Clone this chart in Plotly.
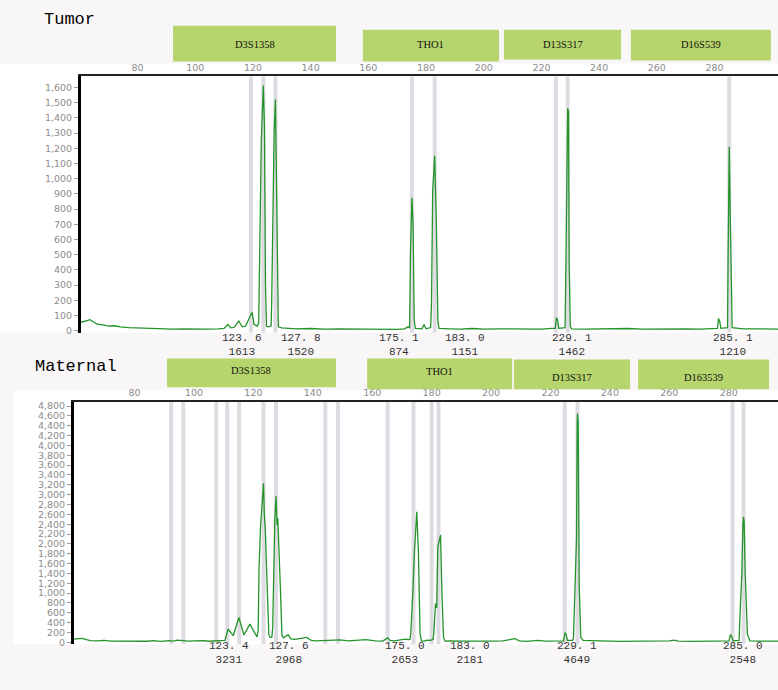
import plotly.graph_objects as go

W, H = 778, 690

# ---------------- data ----------------
tumor_size = [60.4, 61.5, 62.5, 63.5, 64.5, 66, 68, 70, 72, 74, 77, 80, 84, 88, 92, 96, 100, 104, 108, 110,
              111.3, 112.3, 113.5, 115.1, 116.3, 117.5, 119.0, 119.7, 120.4, 121.5, 122.0,
              122.4, 122.9, 123.6, 124.0, 124.35, 124.7, 125.3,
              126.3, 126.5, 126.9, 127.35, 127.8, 128.1, 128.5, 128.8,
              130, 135, 140, 145, 150, 155, 160, 165, 170, 172.5, 173.8,
              174.3, 174.6, 175.1, 175.5, 175.9, 176.3,
              178.6, 179.3, 180.0,
              181.6, 181.9, 182.3, 183.0, 183.6, 184.1, 184.5,
              188, 192, 196, 200, 205, 210, 215, 220, 223.5,
              224.8, 225.2, 225.6, 226.0,
              228.2, 228.5, 228.9, 229.1, 229.4, 229.6, 230.0, 230.4,
              235, 240, 245, 250, 255, 260, 265, 270, 275, 279.5,
              281.0, 281.4, 281.8, 282.2,
              284.5, 284.7, 284.95, 285.1, 285.4, 285.8, 286.1,
              290, 295, 300, 302]
tumor_rfu = [55, 58, 65, 72, 60, 42, 38, 30, 32, 24, 20, 18, 14, 12, 10, 12, 9, 10, 12, 14,
             40, 18, 22, 62, 25, 30, 95, 120, 40, 30, 50,
             780, 1250, 1613, 1334, 300, 28, 25,
             30, 180, 750, 1313, 1520, 1000, 180, 25,
             18, 12, 14, 10, 12, 10, 12, 10, 8, 12, 25,
             20, 510, 874, 714, 70, 15,
             12, 40, 12,
             20, 183, 913, 1151, 680, 60, 15,
             12, 10, 14, 10, 12, 10, 12, 10, 15,
             15, 85, 70, 15,
             20, 464, 1450, 1462, 1440, 470, 30, 12,
             10, 12, 10, 14, 10, 12, 10, 12, 10, 14,
             15, 80, 60, 15,
             20, 475, 1097, 1210, 823, 117, 20,
             12, 10, 12, 10]

maternal_size = [59.6, 61.0, 62.4, 63.8, 65.2, 67.5, 69.7, 72, 75, 78, 81, 84, 86.5, 88.5, 91.6, 93, 94.4, 96, 98,
                 100, 103.3, 105, 106.7, 108.3, 110.4,
                 111.5, 113.2, 115.1, 116.8, 118.8, 120.7, 121.2,
                 121.6, 121.9, 122.4, 122.9, 123.4, 123.65, 124.0, 124.4, 124.8, 125.2, 125.6,
                 126.2, 126.5, 126.8, 127.2, 127.6, 127.95, 128.2, 128.55, 129.1, 129.6, 130.1,
                 131.7, 132.6, 134, 137.9, 139.5, 141, 145.2, 149, 152, 157.9, 161, 163.5, 165.2, 166,
                 167.3, 169.5, 171.2, 172.3,
                 172.7, 173.0, 173.4, 173.65, 174.2, 175.0, 175.55, 176.1, 176.6,
                 177.5, 178.5, 179.5, 180.5,
                 180.75, 181.3, 181.7, 182.1, 183.0, 183.45, 184.0, 184.5,
                 186, 190, 195, 200, 204, 206.5, 208, 209.5, 212, 215, 216, 218, 222,
                 224.4, 224.9, 225.3, 225.7,
                 227.5, 227.75, 228.3, 228.77, 229.0, 229.1, 229.33, 229.67, 230.2, 231.0,
                 233, 238, 244, 250, 256, 260, 261.5, 263, 268, 274, 279,
                 280.1, 280.6, 281.0, 281.5,
                 283.5, 283.9, 284.43, 284.8, 285.0, 285.2, 285.57, 286.3, 287.1,
                 290, 293, 296.6]
maternal_rfu = [67, 72, 81, 55, 34, 30, 38, 25, 22, 18, 20, 22, 35, 20, 35, 25, 45, 30, 25,
                28, 35, 22, 25, 30, 40,
                270, 135, 504, 148, 370, 155, 110,
                240, 1510, 2350, 2900, 3231, 2620, 2290, 1550, 640, 150, 100,
                100, 300, 1780, 2490, 2968, 2386, 2520, 2050, 1075, 140, 90,
                155, 70, 60, 100, 40, 30, 40, 50, 30, 55, 30, 25, 90, 40,
                30, 45, 65, 55,
                60, 200, 640, 975, 1850, 2653, 1815, 170, 30,
                25, 45, 40, 60,
                200, 790, 700, 1950, 2181, 1010, 100, 25,
                30, 25, 20, 25, 30, 50, 75, 30, 20, 35, 40, 25, 25,
                30, 200, 160, 40,
                40, 100, 1143, 2118, 4500, 4649, 4457, 1176, 100, 40,
                35, 25, 20, 25, 20, 30, 45, 25, 20, 25, 30,
                30, 160, 120, 30,
                40, 706, 1392, 2400, 2548, 2450, 1378, 168, 30,
                25, 30, 25]

tumor_bins = [119.3, 123.6, 127.8, 175.1, 183.0, 225.0, 229.1, 285.1]
maternal_bins = [92.3, 96.4, 107.5, 111.2, 115.2, 123.4, 127.6, 144.2, 148.5, 165.2,
                 173.9, 180.0, 182.3, 224.8, 229.1, 281.3, 285.0]

tumor_alleles = [123.6, 127.8, 175.1, 183.0, 229.1, 285.1]
tumor_heights = [1613, 1520, 874, 1151, 1462, 1210]
maternal_alleles = [123.4, 127.6, 175.0, 183.0, 229.1, 285.0]
maternal_heights = [3231, 2968, 2653, 2181, 4649, 2548]

size_ticks = [80, 100, 120, 140, 160, 180, 200, 220, 240, 260, 280, 300]

tumor_loci = ["D3S1358", "THO1", "D13S317", "D16S539"]
tumor_locus_start = [92.3, 158.1, 207.0, 251.0]
tumor_locus_end = [148.8, 205.3, 247.6, 299.5]
maternal_loci = ["D3S1358", "THO1", "D13S317", "D163539"]
maternal_locus_start = [90.9, 158.3, 207.7, 249.5]
maternal_locus_end = [147.8, 207.1, 246.8, 293.6]

# ---------------- style ----------------
PINK = "#f9f6f7"
GREEN_BOX = "#b6d56c"
LINE = "#23932a"
BIN = "#dedce2"
TICKGRAY = "#8c8c8c"


def fx(px):
    return px / W


def fy(py):
    return 1 - py / H


fig = go.Figure()
fig.add_trace(go.Scatter(x=tumor_size, y=tumor_rfu, mode="lines", xaxis="x", yaxis="y",
                         line=dict(color=LINE, width=1.3), hoverinfo="skip", showlegend=False))
fig.add_trace(go.Scatter(x=maternal_size, y=maternal_rfu, mode="lines", xaxis="x2", yaxis="y2",
                         line=dict(color=LINE, width=1.3), hoverinfo="skip", showlegend=False))

shapes = []
# white panel backgrounds
shapes.append(dict(type="rect", xref="paper", yref="paper", x0=fx(0), x1=fx(778), y0=fy(332), y1=fy(62),
                   fillcolor="white", line=dict(width=0), layer="below"))
shapes.append(dict(type="rect", xref="paper", yref="paper", x0=fx(14), x1=fx(778), y0=fy(647), y1=fy(391),
                   fillcolor="white", line=dict(width=0), layer="below"))
# bins
for b in tumor_bins:
    shapes.append(dict(type="line", xref="x", yref="y domain", x0=b, x1=b, y0=0, y1=1,
                       line=dict(color=BIN, width=4), layer="below"))
for b in maternal_bins:
    shapes.append(dict(type="line", xref="x2", yref="y2 domain", x0=b, x1=b, y0=0, y1=1,
                       line=dict(color=BIN, width=4), layer="below"))

annotations = []
# locus boxes
top_box_y = [(24, 60), (28, 60), (28, 58), (28, 59)]
top_txt_y = [43, 43, 43, 43]
bot_box_y = [(359, 388), (359, 390), (360, 390), (360, 390)]
bot_txt_y = [371, 372, 378, 378]
box_font = dict(family="Liberation Serif", size=10.5, color="#111")
for name, s0, s1, (ya, yb), ty in zip(tumor_loci, tumor_locus_start, tumor_locus_end, top_box_y, top_txt_y):
    shapes.append(dict(type="rect", xref="x", yref="paper", x0=s0, x1=s1, y0=fy(yb), y1=fy(ya),
                       fillcolor=GREEN_BOX, line=dict(width=0)))
    annotations.append(dict(x=(s0 + s1) / 2, xref="x", y=fy(ty), yref="paper", text=name, showarrow=False,
                            font=box_font, xanchor="center", yanchor="middle"))
for name, s0, s1, (ya, yb), ty in zip(maternal_loci, maternal_locus_start, maternal_locus_end, bot_box_y, bot_txt_y):
    shapes.append(dict(type="rect", xref="x2", yref="paper", x0=s0, x1=s1, y0=fy(yb), y1=fy(ya),
                       fillcolor=GREEN_BOX, line=dict(width=0)))
    annotations.append(dict(x=(s0 + s1) / 2, xref="x2", y=fy(ty), yref="paper", text=name, showarrow=False,
                            font=box_font, xanchor="center", yanchor="middle"))

# panel titles
title_font = dict(family="Liberation Mono", size=17, color="black")
annotations.append(dict(x=fx(42), y=fy(18), xref="paper", yref="paper", text="Tumor", showarrow=False,
                        xanchor="left", yanchor="middle", font=title_font))
annotations.append(dict(x=fx(33), y=fy(367), xref="paper", yref="paper", text="Maternal", showarrow=False,
                        xanchor="left", yanchor="middle", font=title_font))

# allele labels (size / height, two lines)
lab_font = dict(family="Liberation Mono", size=11, color="#333")
top_shift = [-21, 26, -13, 30, 4, 4]
bot_shift = [-35, 13, -12, 29, 0, -1]


def fmt(v):
    return f"{v:.1f}".replace(".", ". ")


for s, h, dx in zip(tumor_alleles, tumor_heights, top_shift):
    annotations.append(dict(x=s, xref="x", y=fy(346), yref="paper", text=fmt(s) + "<br>" + str(h),
                            showarrow=False, xshift=dx, xanchor="center", yanchor="middle",
                            font=lab_font, borderpad=0))
for s, h, dx in zip(maternal_alleles, maternal_heights, bot_shift):
    annotations.append(dict(x=s, xref="x2", y=fy(656), yref="paper", text=fmt(s) + "<br>" + str(h),
                            showarrow=False, xshift=dx, xanchor="center", yanchor="middle",
                            font=lab_font, borderpad=0))

tickfont = dict(family="DejaVu Sans", size=9.5, color=TICKGRAY)
xcommon = dict(side="top", tickvals=size_ticks, showline=True, linecolor="#222", linewidth=2,
               ticks="", showgrid=False, zeroline=False, tickfont=tickfont, fixedrange=True)
ycommon = dict(tickformat=",d", showline=True, linecolor="black", linewidth=3, ticks="outside",
               ticklen=4, tickcolor="#9a9a9a", showgrid=False, zeroline=False, tickfont=tickfont,
               fixedrange=True)

fig.update_layout(
    width=W, height=H, margin=dict(l=0, r=0, t=0, b=0),
    paper_bgcolor=PINK, plot_bgcolor="white", showlegend=False,
    xaxis=dict(domain=[fx(81), 1], range=[60.4, 302.0], anchor="y", **xcommon),
    yaxis=dict(domain=[fy(333), fy(75)], range=[-13, 1672], anchor="x", dtick=100, **ycommon),
    xaxis2=dict(domain=[fx(74), 1], range=[59.6, 296.6], anchor="y2", **xcommon),
    yaxis2=dict(domain=[fy(647), fy(403)], range=[-40, 4881], anchor="x2", dtick=200, **ycommon),
    shapes=shapes, annotations=annotations,
)

fig.write_html("out.html", config={"displayModeBar": False},
               post_script="document.body.style.margin='0px';document.body.style.overflow='hidden';")
